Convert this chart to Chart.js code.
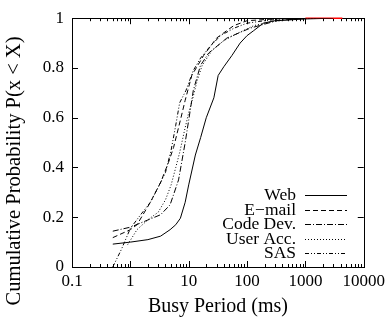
<!DOCTYPE html>
<html>
<head>
<meta charset="utf-8">
<script src="https://cdn.jsdelivr.net/npm/chart.js@4/dist/chart.umd.min.js"></script>
<style>
  html, body { margin: 0; padding: 0; background: #fff; }
  #wrap { width: 389px; height: 322px; }
</style>
</head>
<body>
<div id="wrap"><canvas id="cdf"></canvas></div>
<script>
// busy period (ms) vs cumulative probability
var webX = [0.5, 1, 2, 3.3, 4.8, 6, 7.2, 8.7, 10, 13, 16, 20, 27, 32, 40, 55, 76, 100, 130, 190, 300, 1000, 3000];
var webY = [0.092, 0.10, 0.11, 0.124, 0.15, 0.17, 0.196, 0.26, 0.33, 0.45, 0.52, 0.60, 0.68, 0.77, 0.805, 0.85, 0.90, 0.93, 0.95, 0.98, 0.99, 0.997, 1.0];

var mailX = [0.5, 1, 1.3, 2.2, 3.3, 4.5, 5.5, 7.2, 8.7, 11.3, 18, 30, 45, 59, 100, 300, 1000];
var mailY = [0.118, 0.15, 0.17, 0.26, 0.34, 0.42, 0.48, 0.59, 0.67, 0.77, 0.85, 0.92, 0.95, 0.97, 0.99, 0.997, 1.0];

var codeX = [0.5, 1, 1.5, 3.3, 4.8, 6.7, 8.7, 10, 12, 15.9, 22, 45, 113, 324, 1000];
var codeY = [0.144, 0.16, 0.177, 0.21, 0.25, 0.35, 0.50, 0.59, 0.71, 0.81, 0.86, 0.92, 0.96, 0.99, 1.0];

var userX = [0.9, 1.3, 2, 3, 4, 5, 6, 7, 8.5, 10, 11.5, 14, 17, 25, 40, 70, 130, 250, 600, 1500];
var userY = [0.09, 0.15, 0.19, 0.22, 0.27, 0.33, 0.40, 0.46, 0.55, 0.62, 0.67, 0.75, 0.81, 0.87, 0.91, 0.94, 0.97, 0.985, 0.995, 1.0];

var sasX = [0.5, 0.7, 1, 1.5, 2.2, 3, 4, 5, 6, 7, 9, 12, 16, 22, 35, 60, 100, 200, 500];
var sasY = [0, 0.07, 0.155, 0.21, 0.26, 0.32, 0.38, 0.47, 0.57, 0.66, 0.71, 0.79, 0.84, 0.88, 0.93, 0.96, 0.98, 0.99, 1.0];

// short red stroke along the top edge
var redX = [1000, 4300];
var redY = [1, 1];

var seriesNames = ['Web', 'E\u2212mail', 'Code Dev.', 'User Acc.', 'SAS'];
var xTicks = [0.1, 1, 10, 100, 1000, 10000];
var yTicks = [0, 0.2, 0.4, 0.6, 0.8, 1];
var yTitle = 'Cumulative Probability P(x < X)';

function pts(xs, ys) {
  var out = [];
  for (var i = 0; i < xs.length; i++) out.push({ x: xs[i], y: ys[i] });
  return out;
}

var dashes = [[], [5, 3], [6, 2, 1, 2], [1, 2], [4, 2, 1, 2, 1, 2]];
var allX = [webX, mailX, codeX, userX, sasX];
var allY = [webY, mailY, codeY, userY, sasY];

var sets = [];
for (var k = 0; k < seriesNames.length; k++) {
  sets.push({
    label: seriesNames[k],
    data: pts(allX[k], allY[k]),
    borderColor: '#000',
    borderWidth: 1,
    borderDash: dashes[k],
    pointRadius: 0,
    showLine: true,
    fill: false,
    tension: 0
  });
}
sets.push({
  label: 'red',
  data: pts(redX, redY),
  borderColor: '#ff0000',
  borderWidth: 1.5,
  pointRadius: 0,
  showLine: true,
  fill: false,
  clip: false
});

var serif = '"Liberation Serif", "Times New Roman", serif';

// gnuplot style frame with inward ticks, y title and a right aligned key
var framePlugin = {
  id: 'frame',
  beforeDatasetsDraw: function (chart) {
    var c = chart.ctx, a = chart.chartArea;
    var xs = chart.scales.x, ys = chart.scales.y;
    c.save();
    c.strokeStyle = '#000';
    c.lineWidth = 1;
    c.strokeRect(Math.round(a.left) + 0.5, Math.round(a.top) + 0.5,
                 Math.round(a.right - a.left), Math.round(a.bottom - a.top));
    c.beginPath();
    for (var d = 0; d < xTicks.length; d++) {
      var px = Math.round(xs.getPixelForValue(xTicks[d])) + 0.5;
      c.moveTo(px, a.bottom); c.lineTo(px, a.bottom - 6);
      c.moveTo(px, a.top); c.lineTo(px, a.top + 6);
      if (d < xTicks.length - 1) {
        for (var m = 2; m < 10; m++) {
          var mx = Math.round(xs.getPixelForValue(xTicks[d] * m)) + 0.5;
          c.moveTo(mx, a.bottom); c.lineTo(mx, a.bottom - 3);
          c.moveTo(mx, a.top); c.lineTo(mx, a.top + 3);
        }
      }
    }
    for (var j = 0; j < yTicks.length; j++) {
      var py = Math.round(ys.getPixelForValue(yTicks[j])) + 0.5;
      c.moveTo(a.left, py); c.lineTo(a.left + 6, py);
      c.moveTo(a.right, py); c.lineTo(a.right - 6, py);
    }
    c.stroke();
    c.restore();
  },
  afterDraw: function (chart) {
    var c = chart.ctx;
    c.save();
    c.fillStyle = '#000';
    c.strokeStyle = '#000';
    c.lineWidth = 1;
    // y title, sits a bit lower than the plot centre like the original
    c.save();
    c.translate(15, 171);
    c.rotate(-Math.PI / 2);
    c.font = '20.5px ' + serif;
    c.textAlign = 'center';
    c.textBaseline = 'middle';
    c.fillText(yTitle, 0, 0);
    c.restore();

    // key
    c.font = '17.5px ' + serif;
    c.textAlign = 'right';
    c.textBaseline = 'middle';
    var textRight = 296, lineL = 305, lineR = 347, rowY = 195, rowH = 14.5;
    for (var i = 0; i < seriesNames.length; i++) {
      var ds = chart.data.datasets[i];
      var y = Math.round(rowY + i * rowH) + 0.5;
      c.fillText(ds.label, textRight, y);
      c.beginPath();
      c.setLineDash(ds.borderDash);
      c.moveTo(lineL, y); c.lineTo(lineR, y);
      c.stroke();
      c.setLineDash([]);
    }
    c.restore();
  }
};

new Chart(document.getElementById('cdf'), {
  type: 'scatter',
  data: { datasets: sets },
  plugins: [framePlugin],
  options: {
    responsive: true,
    maintainAspectRatio: false,
    animation: false,
    layout: { padding: { top: 12, right: 25, left: 0, bottom: 0 } },
    plugins: { legend: { display: false }, tooltip: { enabled: false } },
    scales: {
      x: {
        type: 'logarithmic',
        min: 0.1,
        max: 10000,
        afterBuildTicks: function (s) { s.ticks = xTicks.map(function (v) { return { value: v }; }); },
        afterFit: function (s) { s.height = 55; },
        grid: { display: false, drawTicks: false },
        border: { display: false },
        ticks: {
          color: '#000',
          font: { family: serif, size: 17 },
          padding: 4,
          maxRotation: 0,
          autoSkip: false,
          callback: function (v) { return String(v); }
        },
        title: {
          display: true,
          text: 'Busy Period (ms)',
          color: '#000',
          font: { family: serif, size: 20 },
          padding: { top: 0, bottom: 3 }
        }
      },
      y: {
        min: 0,
        max: 1,
        afterBuildTicks: function (s) { s.ticks = yTicks.map(function (v) { return { value: v }; }); },
        afterFit: function (s) { s.width = 72; },
        grid: { display: false, drawTicks: false },
        border: { display: false },
        ticks: {
          color: '#000',
          font: { family: serif, size: 17 },
          padding: 8,
          callback: function (v) { return String(+v.toFixed(1)); }
        }
      }
    }
  }
});
</script>
</body>
</html>
